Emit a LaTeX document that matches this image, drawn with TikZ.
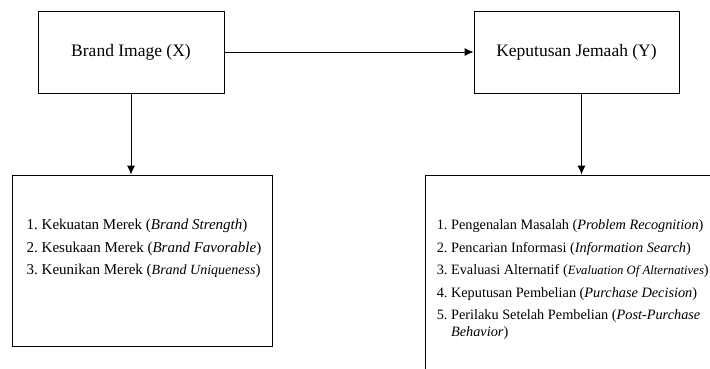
\documentclass[tikz,border=0pt]{standalone}
\usepackage{fontspec}
\setmainfont{Liberation Serif}
\usetikzlibrary{arrows.meta, positioning, calc}

\tikzset{
  box/.style={draw, line width=0.9pt, inner sep=0pt},
  conn/.style={line width=0.9pt, -{Latex[length=9pt,width=8pt]}},
  title/.style={font=\fontsize{17.5}{20}\selectfont},
  items/.style={anchor=base west, inner sep=0pt}
}
\newcommand{\en}[1]{\textit{#1}}

\begin{document}
\begin{tikzpicture}[x=1pt, y=-1pt]
  \useasboundingbox (0,0) rectangle (710,369);
  \clip (0,0) rectangle (710,369);
  \fill[white] (0,0) rectangle (710,369);

  % variables
  \node[box, title, minimum width=186pt, minimum height=82pt] (brand) at (131,52) {Brand Image (X)};
  \node[box, title, minimum width=205pt, minimum height=82pt] (decision) at (576.5,52) {Keputusan Jemaah (Y)};

  % indicator boxes
  \node[box, minimum width=260pt, minimum height=171pt] (brandind) at (142,260.5) {};
  \node[box, minimum width=315pt, minimum height=225pt] (decisionind) at (582.5,287.5) {};

  % indicators of X
  \node[items, font=\fontsize{15}{18}\selectfont] (brandlist) at ([shift={(15,55)}]brandind.north west) {%
    \begin{tabular}[t]{@{}l@{\ }l@{}}
      1. & Kekuatan Merek (\en{Brand Strength}) \\[4.5pt]
      2. & Kesukaan Merek (\en{Brand Favorable}) \\[4.5pt]
      3. & Keunikan Merek (\en{\fontsize{14}{18}\selectfont Brand Uniqueness})
    \end{tabular}};

  % indicators of Y
  \node[items, font=\fontsize{14.3}{17}\selectfont] (decisionlist) at ([shift={(12,55)}]decisionind.north west) {%
    \begin{tabular}[t]{@{}l@{\ }l@{}}
      1. & Pengenalan Masalah (\en{Problem Recognition}) \\[5.5pt]
      2. & Pencarian Informasi (\en{Information Search}) \\[5.5pt]
      3. & Evaluasi Alternatif (\en{\fontsize{12.7}{17}\selectfont Evaluation Of Alternatives}) \\[5.5pt]
      4. & Keputusan Pembelian (\en{Purchase Decision}) \\[5.5pt]
      5. & Perilaku Setelah Pembelian (\en{Post-Purchase} \\
         & \en{Behavior})
    \end{tabular}};

  % arrows
  \draw[conn] (brand) -- (decision);
  \draw[conn] (brand.south) -- (brand.south |- brandind.north);
  \draw[conn] ([xshift=5pt]decision.south) -- ([xshift=5pt]decision.south |- decisionind.north);
\end{tikzpicture}
\end{document}
